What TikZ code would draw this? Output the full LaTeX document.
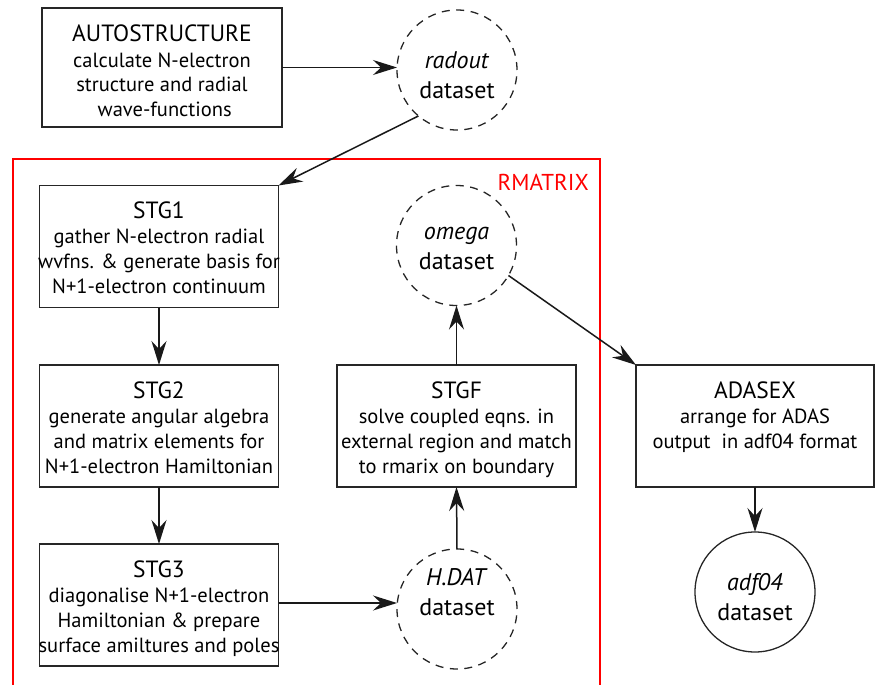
\documentclass[tikz,border=0pt]{standalone}
\usepackage{fontspec}
\setmainfont{PT Sans}
\usetikzlibrary{arrows.meta}
\newcommand\ttlfont{\fontsize{23.5}{25}\selectfont}
\newcommand\bdyfont{\fontsize{20.5}{25}\selectfont}
\newcommand\dsfont{\fontsize{24}{30}\selectfont}
\newcommand\boxlines[1]{\parbox[t]{300pt}{\centering #1\par}}

\begin{document}
\begin{tikzpicture}[x=1pt,y=-1pt,
  procbox/.style={draw=black!85, line width=1.5pt, inner sep=0pt, outer sep=0pt,
                  minimum width=239pt, minimum height=122pt},
  boxtext/.style={anchor=base, inner sep=0pt},
  dset/.style={circle, draw=black!85, line width=1.3pt, dash pattern=on 8pt off 6.5pt,
               minimum size=120pt, inner sep=0pt, outer sep=0pt},
  dfile/.style={circle, draw=black!85, line width=1.3pt,
                minimum size=120pt, inner sep=0pt, outer sep=0pt},
  dtext/.style={inner sep=0pt, align=center, font=\dsfont},
  flow/.style={-{Stealth[length=24pt,width=15pt,inset=8pt]}, line width=1.5pt, draw=black!90}]

\useasboundingbox (0,0) rectangle (884,685);
\clip (0,0) rectangle (884,685);

% RMATRIX frame
\draw[red, line width=1.6pt] (13,159) rectangle (600,700);
\node[red, anchor=base east, inner sep=0pt, font=\fontsize{23}{25}\selectfont] (rmlabel) at (589,190) {RMATRIX};

% processing stages
\node[procbox, minimum width=240pt, minimum height=119pt] (auto) at (162,67.5) {};
\node[procbox] (stg1) at (159,246.5) {};
\node[procbox] (stg2) at (159,426) {};
\node[procbox] (stg3) at (159,605) {};
\node[procbox] (stgf) at (456.5,426) {};
\node[procbox, minimum width=238pt] (adasex) at (755,426) {};

\node[boxtext] (auto-t) at ([yshift=-34pt]auto.north)
  {\boxlines{\ttlfont AUTOSTRUCTURE\\\bdyfont calculate N-electron\\structure and radial\\\ wave-functions}};
\node[boxtext] (stg1-t) at ([yshift=-33pt]stg1.north)
  {\boxlines{\ttlfont STG1\\\bdyfont gather N-electron radial\\wvfns. \& generate basis for\\N+1-electron continuum}};
\node[boxtext] (stg2-t) at ([yshift=-33pt]stg2.north)
  {\boxlines{\ttlfont STG2\\\bdyfont generate angular algebra\\and matrix elements for\\N+1-electron Hamiltonian}};
\node[boxtext] (stg3-t) at ([yshift=-33pt]stg3.north)
  {\boxlines{\ttlfont STG3\\\bdyfont diagonalise N+1-electron\\Hamiltonian \& prepare\\surface amiltures and poles}};
\node[boxtext] (stgf-t) at ([yshift=-33pt]stgf.north)
  {\boxlines{\ttlfont STGF\\\bdyfont solve coupled eqns. in\\external region and match\\to rmarix on boundary}};
\node[boxtext] (adasex-t) at ([yshift=-33pt]adasex.north)
  {\boxlines{\ttlfont ADASEX\\\bdyfont arrange for ADAS\\output\ \ in adf04 format}};

% datasets
\node[dset] (radout) at (457,70) {};
\node[dset] (omega) at (456.5,245.5) {};
\node[dset] (hdat) at (457,609) {};
\node[dfile] (adf04) at (755,592) {};

\node[dtext] (radout-t) at ([yshift=-5pt]radout.center) {\textit{radout}\\dataset};
\node[dtext] (omega-t) at ([yshift=-3pt]omega.center) {\textit{omega}\\dataset};
\node[dtext] (hdat-t) at ([yshift=17pt]hdat.center) {\textit{H.DAT}\\dataset};
\node[dtext] (adf04-t) at ([yshift=-5pt]adf04.center) {\textit{adf04}\\dataset};

% data flow
\draw[flow] (auto.east) -- (auto.east -| radout.west);
\draw[flow] (radout.-130) -- (stg1.north east);
\draw[flow] (stg1.south) -- (stg2.north);
\draw[flow] (stg2.south) -- (stg3.north);
\draw[flow] ([yshift=2pt]stg3.east) -- ([yshift=2pt]stg3.east -| hdat.west);
\draw[flow] (hdat.north) -- (stgf.south);
\draw[flow] (stgf.north) -- (omega.south);
\draw[flow] (omega.-30) -- (adasex.north west);
\draw[flow] (adasex.south) -- (adf04.north);
\end{tikzpicture}
\end{document}
